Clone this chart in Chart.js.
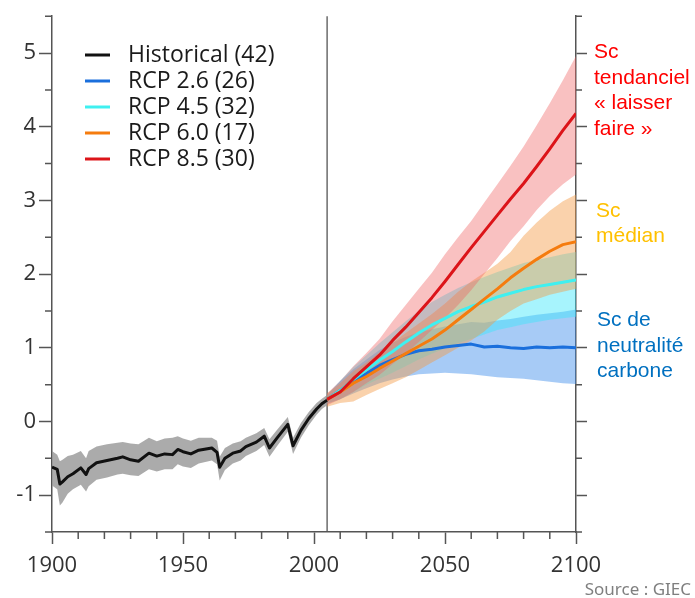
<!DOCTYPE html>
<html>
<head>
<meta charset="utf-8">
<script src="https://cdn.jsdelivr.net/npm/chart.js@4.4.1/dist/chart.umd.min.js"></script>
<style>
  body { margin: 0; background: #fff; }
  #wrap { width: 695px; height: 598px; }
</style>
</head>
<body>
<div id="wrap"><canvas id="chart" width="695" height="598"></canvas></div>
<script>
// Historical (1900-2005)
const histYears = [1900, 1902, 1903, 1904, 1906, 1908, 1911, 1913, 1914, 1917, 1921, 1925, 1927, 1930, 1933, 1937, 1940, 1943, 1946, 1948, 1950, 1953, 1956, 1961, 1963, 1964, 1966, 1969, 1972, 1974, 1978, 1981, 1983, 1986, 1990, 1992, 1995, 1998, 2001, 2003, 2005]
const histMean = [-0.62, -0.65, -0.85, -0.82, -0.75, -0.71, -0.63, -0.72, -0.64, -0.56, -0.53, -0.50, -0.48, -0.52, -0.54, -0.43, -0.47, -0.44, -0.45, -0.38, -0.41, -0.44, -0.39, -0.36, -0.42, -0.62, -0.50, -0.43, -0.40, -0.34, -0.28, -0.20, -0.36, -0.22, -0.04, -0.33, -0.12, 0.04, 0.17, 0.24, 0.29]
const histHigh = [-0.40, -0.45, -0.54, -0.52, -0.47, -0.45, -0.40, -0.50, -0.40, -0.34, -0.31, -0.29, -0.28, -0.30, -0.31, -0.22, -0.27, -0.23, -0.22, -0.20, -0.23, -0.26, -0.22, -0.22, -0.26, -0.48, -0.36, -0.30, -0.27, -0.22, -0.16, -0.09, -0.24, -0.11, 0.06, -0.22, -0.02, 0.13, 0.25, 0.31, 0.36]
const histLow = [-0.87, -0.92, -1.14, -1.10, -0.98, -0.92, -0.86, -0.95, -0.88, -0.79, -0.76, -0.72, -0.71, -0.73, -0.74, -0.65, -0.68, -0.65, -0.65, -0.58, -0.61, -0.63, -0.57, -0.53, -0.58, -0.80, -0.66, -0.57, -0.53, -0.47, -0.40, -0.32, -0.48, -0.33, -0.14, -0.44, -0.22, -0.05, 0.09, 0.17, 0.22]

// Projections (2005-2100)
const projYears = [2005, 2010, 2015, 2020, 2025, 2030, 2035, 2040, 2045, 2050, 2055, 2060, 2065, 2070, 2075, 2080, 2085, 2090, 2095, 2100]

const rcp26Mean = [0.30, 0.42, 0.55, 0.65, 0.76, 0.84, 0.91, 0.96, 0.98, 1.01, 1.03, 1.05, 1.01, 1.02, 1.00, 0.99, 1.01, 1.00, 1.01, 1.00]
const rcp26High = [0.36, 0.55, 0.71, 0.84, 0.97, 1.07, 1.15, 1.21, 1.25, 1.29, 1.32, 1.35, 1.34, 1.37, 1.39, 1.42, 1.45, 1.47, 1.49, 1.52]
const rcp26Low = [0.24, 0.30, 0.38, 0.45, 0.52, 0.57, 0.61, 0.64, 0.65, 0.66, 0.65, 0.64, 0.62, 0.60, 0.59, 0.58, 0.56, 0.54, 0.52, 0.51]

const rcp45Mean = [0.30, 0.42, 0.57, 0.70, 0.83, 0.95, 1.08, 1.20, 1.31, 1.40, 1.49, 1.56, 1.62, 1.69, 1.74, 1.79, 1.83, 1.86, 1.89, 1.92]
const rcp45High = [0.36, 0.55, 0.74, 0.90, 1.06, 1.21, 1.36, 1.50, 1.62, 1.72, 1.81, 1.89, 1.96, 2.03, 2.09, 2.15, 2.19, 2.23, 2.27, 2.30]
const rcp45Low = [0.24, 0.30, 0.40, 0.50, 0.58, 0.66, 0.75, 0.84, 0.92, 0.99, 1.06, 1.12, 1.18, 1.24, 1.28, 1.32, 1.35, 1.38, 1.40, 1.42]

const rcp60Mean = [0.30, 0.40, 0.52, 0.61, 0.72, 0.82, 0.92, 1.02, 1.12, 1.24, 1.38, 1.52, 1.66, 1.80, 1.95, 2.08, 2.20, 2.31, 2.40, 2.44]
const rcp60High = [0.38, 0.52, 0.68, 0.80, 0.94, 1.07, 1.20, 1.33, 1.46, 1.60, 1.76, 1.90, 2.02, 2.14, 2.30, 2.52, 2.70, 2.86, 2.99, 3.08]
const rcp60Low = [0.20, 0.25, 0.27, 0.36, 0.44, 0.52, 0.60, 0.70, 0.80, 0.90, 1.00, 1.10, 1.22, 1.38, 1.50, 1.60, 1.66, 1.72, 1.76, 1.80]

const rcp85Mean = [0.30, 0.40, 0.58, 0.74, 0.90, 1.10, 1.28, 1.48, 1.68, 1.90, 2.13, 2.36, 2.58, 2.80, 3.02, 3.23, 3.46, 3.70, 3.95, 4.18]
const rcp85High = [0.38, 0.55, 0.75, 0.93, 1.12, 1.36, 1.58, 1.80, 2.02, 2.27, 2.50, 2.72, 2.97, 3.22, 3.47, 3.73, 4.02, 4.32, 4.63, 4.96]
const rcp85Low = [0.22, 0.30, 0.40, 0.52, 0.63, 0.78, 0.92, 1.08, 1.24, 1.40, 1.58, 1.78, 2.00, 2.22, 2.45, 2.65, 2.87, 3.06, 3.22, 3.35]

const legendLabels = ['Historical (42)', 'RCP 2.6 (26)', 'RCP 4.5 (32)', 'RCP 6.0 (17)', 'RCP 8.5 (30)']
const lineColors = ['#111111', '#1a6fdc', '#3ff0f0', '#f57c0f', '#dc1419']
const bandColors = ['rgba(150,150,150,0.8)', 'rgba(60,140,235,0.45)', 'rgba(60,230,250,0.45)', 'rgba(245,155,70,0.45)', 'rgba(240,100,100,0.4)']

const xTicks = [1900, 1950, 2000, 2050, 2100]
const xMinor = [1910, 1920, 1930, 1940, 1960, 1970, 1980, 1990, 2010, 2020, 2030, 2040, 2060, 2070, 2080, 2090]
const yTicks = [-1, 0, 1, 2, 3, 4, 5]
const yMinor = [-1.5, -0.5, 0.5, 1.5, 2.5, 3.5, 4.5, 5.5]
const splitYear = 2005

const axisColor = '#555'
const tickFont = { family: 'Open Sans', size: 22 }

const toXY = (xs, ys) => xs.map((x, i) => ({ x, y: ys[i] }))

const series = [
    { years: histYears, mean: histMean, low: histLow, high: histHigh },
    { years: projYears, mean: rcp26Mean, low: rcp26Low, high: rcp26High },
    { years: projYears, mean: rcp45Mean, low: rcp45Low, high: rcp45High },
    { years: projYears, mean: rcp60Mean, low: rcp60Low, high: rcp60High },
    { years: projYears, mean: rcp85Mean, low: rcp85Low, high: rcp85High }
]

// bands first (low + high filled to low): blue at the bottom, red on top
const datasets = []
series.forEach((s, i) => {
    const lowIndex = datasets.length
    const order = i === 0 ? 20 : 15 - i
    datasets.push({ data: toXY(s.years, s.low), borderWidth: 0, pointRadius: 0, fill: false, order })
    datasets.push({ data: toXY(s.years, s.high), borderWidth: 0, pointRadius: 0, fill: { target: lowIndex }, backgroundColor: bandColors[i], order })
})
// mean lines over all bands
series.forEach((s, i) => {
    datasets.push({
        label: legendLabels[i],
        data: toXY(s.years, s.mean),
        borderColor: lineColors[i],
        borderWidth: 3,
        borderJoinStyle: 'round',
        pointRadius: 0,
        fill: false,
        order: 4 - i
    })
})

// minor ticks, 2005 separator, legend and notes
const extras = {
    id: 'extras',
    beforeDatasetsDraw(chart) {
        const { ctx, chartArea, scales: { x } } = chart
        const px = x.getPixelForValue(splitYear)
        ctx.save()
        ctx.strokeStyle = axisColor
        ctx.lineWidth = 1.3
        ctx.beginPath()
        ctx.moveTo(px, chartArea.top)
        ctx.lineTo(px, chartArea.bottom)
        ctx.stroke()
        ctx.restore()
    },
    afterDraw(chart) {
        const { ctx, chartArea, scales: { x, y } } = chart
        ctx.save()
        ctx.strokeStyle = axisColor
        ctx.lineWidth = 1.5
        ctx.beginPath()
        xMinor.forEach(v => {
            const px = x.getPixelForValue(v)
            ctx.moveTo(px, chartArea.bottom)
            ctx.lineTo(px, chartArea.bottom + 7)
        })
        yMinor.forEach(v => {
            const py = y.getPixelForValue(v)
            ctx.moveTo(chartArea.left - 7, py)
            ctx.lineTo(chartArea.left, py)
            ctx.moveTo(chartArea.right, py)
            ctx.lineTo(chartArea.right + 6, py)
        })
        ctx.stroke()

        // legend
        ctx.font = '23px "Open Sans"'
        ctx.textBaseline = 'middle'
        legendLabels.forEach((label, i) => {
            const ly = 55 + i * 26
            ctx.strokeStyle = lineColors[i]
            ctx.lineWidth = 3
            ctx.beginPath()
            ctx.moveTo(85, ly)
            ctx.lineTo(110, ly)
            ctx.stroke()
            ctx.fillStyle = '#1a1a1a'
            ctx.fillText(label, 128, ly)
        })

        // scenario notes
        ctx.font = '21px "Liberation Sans"'
        ctx.textBaseline = 'alphabetic'
        const notes = [
            { color: '#ff0000', x: 594, y: 58, lines: ['Sc', 'tendanciel', '« laisser', 'faire »'] },
            { color: '#ffc000', x: 596, y: 216.5, lines: ['Sc', 'médian'] },
            { color: '#0070c0', x: 597, y: 326, lines: ['Sc de', 'neutralité', 'carbone'] }
        ]
        notes.forEach(n => {
            ctx.fillStyle = n.color
            n.lines.forEach((t, i) => ctx.fillText(t, n.x, n.y + i * 25.5))
        })

        ctx.font = '17px "Noto Sans"'
        ctx.fillStyle = '#7f7f7f'
        ctx.textAlign = 'right'
        ctx.fillText('Source : GIEC', 691, 595)
        ctx.restore()
    }
}

new Chart(document.getElementById('chart'), {
    type: 'line',
    data: { datasets },
    options: {
        responsive: false,
        animation: false,
        layout: { padding: { top: 9 } },
        plugins: { legend: { display: false }, tooltip: { enabled: false } },
        scales: {
            x: {
                type: 'linear', min: 1900, max: 2100, position: 'bottom',
                afterBuildTicks: s => { s.ticks = xTicks.map(v => ({ value: v })) },
                afterFit: s => { s.height = 66 },
                ticks: { font: tickFont, color: '#333', padding: 9, maxRotation: 0, callback: v => String(v) },
                grid: { drawOnChartArea: false, tickLength: 12, tickColor: axisColor, tickWidth: 1.5 },
                border: { color: axisColor, width: 1.5 }
            },
            y: {
                type: 'linear', min: -1.5, max: 5.5, position: 'left',
                afterBuildTicks: s => { s.ticks = yTicks.map(v => ({ value: v })) },
                afterFit: s => { s.width = 52 },
                ticks: { font: tickFont, color: '#333', padding: 3, callback: v => String(v) },
                grid: { drawOnChartArea: false, tickLength: 13, tickColor: axisColor, tickWidth: 1.5 },
                border: { color: axisColor, width: 1.5 }
            },
            y2: {
                type: 'linear', min: -1.5, max: 5.5, position: 'right',
                afterBuildTicks: s => { s.ticks = yTicks.map(v => ({ value: v })) },
                afterFit: s => { s.width = 119 },
                ticks: { callback: () => '' },
                grid: { drawOnChartArea: false, tickLength: 11, tickColor: axisColor, tickWidth: 1.5 },
                border: { color: axisColor, width: 1.5 }
            }
        }
    },
    plugins: [extras]
})
</script>
</body>
</html>
